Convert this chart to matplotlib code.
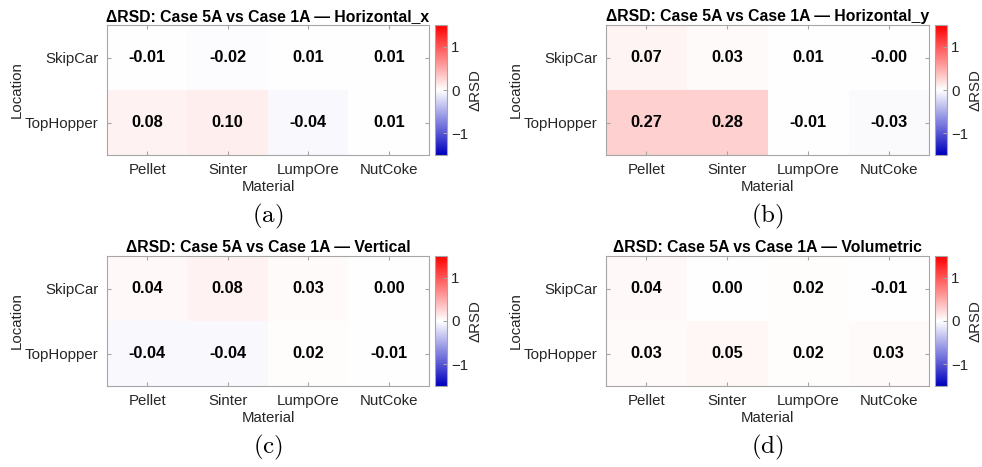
import numpy as np
import matplotlib
matplotlib.use("Agg")
import matplotlib.pyplot as plt
from matplotlib.colors import LinearSegmentedColormap

plt.rcParams['font.family'] = ['Liberation Sans', 'DejaVu Sans']
plt.rcParams['mathtext.fontset'] = 'cm'

materials = ['Pellet', 'Sinter', 'LumpOre', 'NutCoke']
locations = ['SkipCar', 'TopHopper']

# delta RSD, rows = locations, cols = materials
horiz_x = [[-0.01, -0.02, 0.01, 0.01],
           [0.08, 0.10, -0.04, 0.01]]
horiz_y = [[0.07, 0.03, 0.01, -0.00],
           [0.27, 0.28, -0.01, -0.03]]
vertical = [[0.04, 0.08, 0.03, 0.00],
            [-0.04, -0.04, 0.02, -0.01]]
volumetric = [[0.04, 0.00, 0.02, -0.01],
              [0.03, 0.05, 0.02, 0.03]]

panels = [('Horizontal_x', horiz_x, '(a)'),
          ('Horizontal_y', horiz_y, '(b)'),
          ('Vertical', vertical, '(c)'),
          ('Volumetric', volumetric, '(d)')]

cmap = LinearSegmentedColormap.from_list('bwr_m', ['#0000bf', '#ffffff', '#ff0000'])
box_col = '#a6a6a6'
txt_col = '#262626'

W, H = 982, 467
fig = plt.figure(figsize=(W / 100, H / 100), dpi=100)

# pixel boxes (left, top, right, bottom)
ax_px = [(107, 25, 429, 155), (606, 25, 929, 155),
         (107, 256, 429, 386), (606, 256, 929, 386)]

for (name, data, tag), (l, t, r, b) in zip(panels, ax_px):
    ax = fig.add_axes([l / W, 1 - b / H, (r - l) / W, (b - t) / H])
    arr = np.array(data)
    im = ax.imshow(arr, cmap=cmap, vmin=-1.5, vmax=1.5, aspect='auto')
    for i in range(arr.shape[0]):
        for j in range(arr.shape[1]):
            ax.text(j, i, f'{arr[i, j]:.2f}', ha='center', va='center',
                    fontsize=11.8, fontweight='bold', color='black')
    ax.set_xticks(range(len(materials)))
    ax.set_xticklabels(materials)
    ax.set_yticks(range(len(locations)))
    ax.set_yticklabels(locations)
    ax.tick_params(direction='in', length=3, color=box_col, labelcolor=txt_col,
                   labelsize=10.8, top=True, right=True, pad=6)
    for s in ax.spines.values():
        s.set_color(box_col)
        s.set_linewidth(0.8)
    ax.set_xlabel('Material', fontsize=10.8, color=txt_col, labelpad=2)
    ax.set_ylabel('Location', fontsize=10.8, color=txt_col, labelpad=1)
    ax.set_title(f'ΔRSD: Case 5A vs Case 1A — {name}', fontsize=11.3,
                 fontweight='bold', color='black', pad=3)

    cax = fig.add_axes([(r + 6) / W, 1 - b / H, 12 / W, (b - t) / H])
    cb = fig.colorbar(im, cax=cax, ticks=[-1, 0, 1])
    cb.ax.tick_params(direction='in', length=3, color=box_col, labelcolor=txt_col,
                      labelsize=10.8, pad=3)
    cb.outline.set_edgecolor(box_col)
    cb.outline.set_linewidth(0.8)
    cb.set_label('ΔRSD', fontsize=10.8, color=txt_col, labelpad=0)

    fig.text((l + r) / 2 / W, 1 - (b + 61) / H, r'$\mathrm{' + tag + '}$',
             ha='center', va='center', fontsize=18)

fig.savefig('out.png', dpi=100)
